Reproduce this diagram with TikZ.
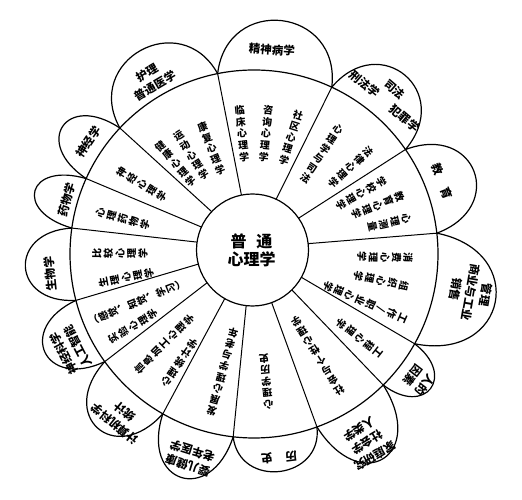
\documentclass[tikz,border=0pt]{standalone}
\usepackage{fontspec}
\newfontfamily\cjk{Noto Sans CJK SC}
\usetikzlibrary{calc}
\newcommand\sectext[4]{\node[sect,rotate=#2-90] (#1) at ($(o)+(#2:#3)$) {#4};}
\newcommand\pettext[5]{\node[pet,rotate=#2-90+#4] (#1) at ($(o)+(#2:#3)$) {#5};}
\begin{document}
\begin{tikzpicture}[x=1pt,y=1pt,
  sect/.style={font=\cjk\bfseries\fontsize{10}{11.6}\selectfont, align=center, inner sep=0pt},
  pet/.style={font=\cjk\bfseries\fontsize{11.5}{15.5}\selectfont, align=center, inner sep=0pt},
  petalline/.style={line width=1.2pt},
  radline/.style={line width=1pt}]
\useasboundingbox (0,0) rectangle (522,500);
\coordinate (o) at (254,246);
\coordinate (oi) at (252.5,250);
% radial dividers
\foreach \a [count=\i] in {101.4,65,34.6,6.5,-29.2,-45.4,-70,-96.5,-119.7,-144.2,-165.4,-188.1,-204.2,-223.2}{
  \coordinate (j\i) at ($(o)+(\a:184)$);
  \coordinate (k\i) at ($(oi)+(\a:56)$);
  \draw[radline] (k\i) -- (j\i);
}
% petals
\foreach \a/\b/\d in {136.8/101.4/49, 101.4/65/51, 65/34.6/50, 34.6/6.5/51, 6.5/-29.2/62, -29.2/-45.4/38, -45.4/-70/58, -70/-96.5/35, -96.5/-119.7/51, -119.7/-144.2/50, -144.2/-165.4/47, -165.4/-188.1/45, -188.1/-204.2/44, -204.2/-223.2/46}{
  \pgfmathsetmacro\pmid{(\a+\b)/2}
  \pgfmathsetmacro\ph{(184+\d-184*cos((\a-\b)/2))/0.75}
  \draw[petalline] ($(o)+(\a:184)$) .. controls ($(o)+(\a:184)+(\pmid:\ph)$) and ($(o)+(\b:184)+(\pmid:\ph)$) .. ($(o)+(\b:184)$);
}
\draw[petalline] (o) circle (184);
\draw[petalline, fill=white] (oi) circle (56);
\node[font=\cjk\bfseries\fontsize{16}{18}\selectfont, align=center, inner sep=0pt] (c) at (251.5,250) {普\hspace{10pt}通\\心理学};
% sector texts
\sectext{s1}{112}{114}{康\\复\\心\\理\\学}
\sectext{s2}{122.5}{117}{运\\动\\心\\理\\学}
\sectext{s3}{131}{120}{健\\康\\心\\理\\学}
\sectext{s4}{95.7}{121}{临\\床\\心\\理\\学}
\sectext{s5}{84.3}{121}{咨\\询\\心\\理\\学}
\sectext{s6}{72.3}{122}{社\\区\\心\\理\\学}
\sectext{s7}{56}{121}{心\\理\\学\\与\\司\\法}
\sectext{s8}{42}{130}{法\\律\\心\\理\\学}
\sectext{s9}{29.5}{123}{学\\校\\心\\理\\学}
\sectext{s10}{21.5}{133}{教\\育\\心\\理\\学}
\sectext{s11}{13}{139}{心\\理\\测\\量}
\sectext{s12}{-1.5}{131}{消\\费\\心\\理\\学}
\sectext{s13}{-12}{130}{组\\织\\心\\理\\学}
\sectext{s14}{-23.5}{121}{工\\作\\/\\职\\业\\心\\理\\学}
\sectext{s15}{-38.5}{135}{工\\程\\心\\理\\学}
\sectext{s16}{-58}{120}{社\\会\\与\\个\\性\\心\\理\\学}
\sectext{s17}{-84.5}{128}{心\\理\\学\\历\\史}
\sectext{s18}{-105}{122}{发\\展\\心\\理\\学\\与\\老\\年}
\sectext{s19}{235.5}{132}{心\\理\\统\\计\\学}
\sectext{s20}{225}{127}{信\\息\\加\\工\\心\\理\\学}
\sectext{s21}{211}{141}{实\\验\\心\\理\\学}
\node[sect,rotate=202.5-90,font=\cjk\bfseries\fontsize{10}{10.4}\selectfont] (s22) at ($(o)+(202.5:124)$) {︵\\感\\觉\\︑\\知\\觉\\︑\\学\\习\\︶};
\sectext{s23}{180}{134}{比\\较\\心\\理\\学}
\sectext{s24}{190.5}{130}{生\\理\\心\\理\\学}
\sectext{s25}{165}{136}{心\\理\\药\\物\\学}
\sectext{s26}{148}{132}{神\\经\\心\\理\\学}
% petal texts
\pettext{p1}{120.5}{203}{0}{护理\\普通医学}
\pettext{p2}{85}{205}{1}{精神病学}
\pettext{p3}{49.5}{209}{0}{司法\\刑法学\hspace{18pt}犯罪学}
\pettext{p4}{21}{202}{0}{教\hspace{14pt}育}
\pettext{p5}{-10}{220}{0}{管理\\商业与工业\\销售}
\pettext{p6}{-37.4}{208}{0}{人的\\因素}
\pettext{p7}{-59}{220}{0}{家庭研究\\社会学\\人类学}
\pettext{p8}{-83}{205}{0}{历\hspace{13pt}史}
\pettext{p9}{-107.4}{214}{0}{婴儿健康\\老年医学}
\pettext{p10}{230.7}{212}{0}{计算机科学\\统计}
\pettext{p11}{207.6}{207}{0}{神经科学\\人工智能}
\pettext{p12}{185.6}{205}{0}{生物学}
\pettext{p13}{163.9}{195}{0}{药物学}
\pettext{p14}{146}{200}{0}{神经学}
\end{tikzpicture}
\end{document}
